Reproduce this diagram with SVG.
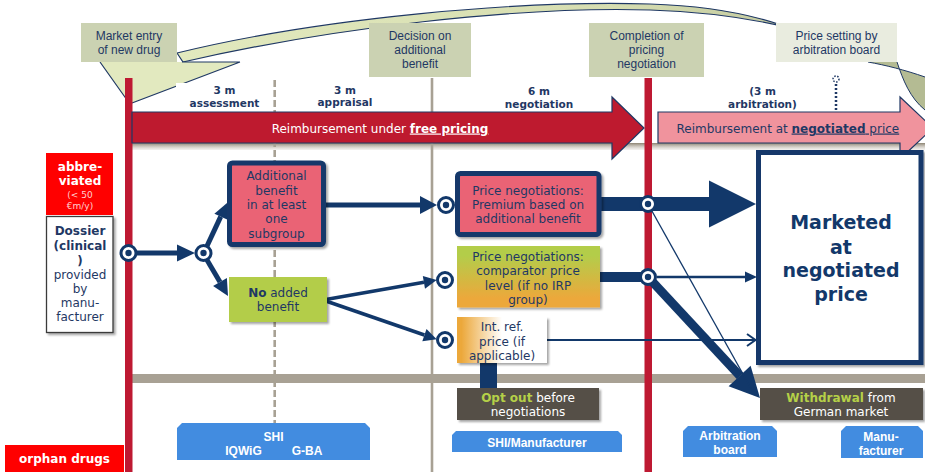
<svg xmlns="http://www.w3.org/2000/svg" width="925" height="472" viewBox="0 0 925 472">
  <style>
    .v { font-family: "DejaVu Sans", Verdana, sans-serif; }
    .a { font-family: "Liberation Sans", Arial, sans-serif; }
    .navyT { fill: #1f3864; }
    .call { font-size: 12px; fill: #1f3864; text-anchor: middle; }
    .tm { font-size: 10.5px; font-weight: bold; fill: #1f3864; text-anchor: middle; }
    .box { font-size: 12px; fill: #1f3864; text-anchor: middle; }
    .tab { fill: #428ce0; }
    .tabT { font-size: 12px; font-weight: bold; fill: #ffffff; text-anchor: middle; }
    .redline { fill: #be1932; }
    .grayline { stroke: #a8a194; }
    .con { stroke: #12386a; fill: none; }
    .head { fill: #12386a; }
    .junc { fill: #ffffff; stroke: #12386a; stroke-width: 3; }
    .dot { fill: #12386a; }
    .dark { fill: #555046; }
    .darkT { font-size: 12px; fill: #ffffff; text-anchor: middle; }
    .hl { font-weight: bold; fill: #b5d048; }
  </style>
  <defs>
    <linearGradient id="arcFill" gradientUnits="userSpaceOnUse" x1="150" y1="0" x2="925" y2="0">
      <stop offset="0" stop-color="#e3eabf"/>
      <stop offset="0.6" stop-color="#d6ddb0"/>
      <stop offset="1" stop-color="#b3ba92"/>
    </linearGradient>
    <linearGradient id="greenOrange" x1="0" y1="0" x2="0" y2="1">
      <stop offset="0.15" stop-color="#b3cd4a"/>
      <stop offset="0.85" stop-color="#eca83b"/>
    </linearGradient>
    <linearGradient id="orangeWhite" x1="0" y1="0" x2="1" y2="0">
      <stop offset="0.05" stop-color="#eca83b"/>
      <stop offset="0.5" stop-color="#ffffff"/>
    </linearGradient>
    <linearGradient id="shade" x1="0" y1="0" x2="0" y2="1">
      <stop offset="0" stop-color="#8c8372"/>
      <stop offset="1" stop-color="#d9d4cc" stop-opacity="0.3"/>
    </linearGradient>
    <filter id="sh" x="-10%" y="-10%" width="130%" height="130%">
      <feDropShadow dx="2" dy="2" stdDeviation="1.2" flood-color="#000000" flood-opacity="0.35"/>
    </filter>
  </defs>

  <rect x="0" y="0" width="925" height="472" fill="#ffffff"/>

  <!-- curved timeline arc from market entry to arbitration -->
  <g id="arc">
    <path d="M177,53 C320,18 520,0 650,4 C740,7 790,24 850,55 L870,55 C810,28 740,13 650,10 C520,6 330,28 183,62 Z" fill="url(#arcFill)" stroke="#1f3864" stroke-width="1.2"/>
    <path d="M868,62 L897,62 C903,80 910,98 925,110 L925,77 C905,70 885,65 868,62 Z" fill="#b4bb93"/>
    <path d="M897,62 C903,80 910,98 925,110 M925,77 C905,70 885,65 868,62" fill="none" stroke="#1f3864" stroke-width="1"/>
    <polygon points="100,62 127,100 132,103 240,62" fill="#e2e9bf"/>
    <path d="M100,62 L127,100 M240,62 L132,103 M182,62 L240,62" fill="none" stroke="#1f3864" stroke-width="1.2"/>
    <rect x="176" y="83" width="96" height="28" fill="#ffffff"/>
  </g>

  <!-- milestone callouts -->
  <g id="market-entry">
    <rect x="81" y="23" width="96" height="39" fill="#cbd2b2"/>
    <text class="a call" x="129" y="39.5">Market entry</text>
    <text class="a call" x="129" y="54">of new drug</text>
  </g>
  <g id="decision">
    <rect x="369" y="23" width="102" height="54" fill="#cbd2b2"/>
    <text class="a call" x="420" y="39.5">Decision on</text>
    <text class="a call" x="420" y="53.5">additional</text>
    <text class="a call" x="420" y="67.5">benefit</text>
  </g>
  <g id="completion">
    <rect x="589" y="23" width="115" height="54" fill="#cbd2b2"/>
    <text class="a call" x="646.5" y="39.5">Completion of</text>
    <text class="a call" x="646.5" y="53.5">pricing</text>
    <text class="a call" x="646.5" y="67.5">negotiation</text>
  </g>
  <g id="price-setting">
    <rect x="776" y="23" width="121" height="39" fill="#e9ecdf"/>
    <text class="a call" x="836.5" y="39.5">Price setting by</text>
    <text class="a call" x="836.5" y="54">arbitration board</text>
  </g>

  <!-- timeline grid -->
  <g id="grid">
    <rect x="130" y="143" width="795" height="7" fill="url(#shade)"/>
    <rect x="128" y="374" width="797" height="9" fill="#a8a194"/>
    <line class="grayline" x1="274.7" y1="80" x2="274.7" y2="423" stroke-width="2.6" stroke-dasharray="7,3"/>
    <line class="grayline" x1="432" y1="78" x2="432" y2="472" stroke-width="2.6"/>
    <line x1="836" y1="84" x2="836" y2="112" stroke="#1f3864" stroke-width="2.5" stroke-dasharray="2,2"/>
    <circle cx="836" cy="79" r="3" fill="none" stroke="#1f3864" stroke-width="1.5" stroke-dasharray="1.5,1.5"/>
    <rect class="redline" x="125" y="78" width="7.5" height="394"/>
    <rect class="redline" x="644.5" y="78" width="7.5" height="394"/>
  </g>

  <!-- phase durations -->
  <g id="durations">
    <text class="v tm" x="224.5" y="94">3 m</text>
    <text class="v tm" x="224.5" y="107">assessment</text>
    <text class="v tm" x="345" y="93.5">3 m</text>
    <text class="v tm" x="345" y="106">appraisal</text>
    <text class="v tm" x="539" y="95">6 m</text>
    <text class="v tm" x="539" y="107.5">negotiation</text>
    <text class="v tm" x="762.5" y="95">(3 m</text>
    <text class="v tm" x="762.5" y="107.5">arbitration)</text>
  </g>

  <!-- reimbursement arrows -->
  <g id="free-pricing">
    <path d="M132,112 L612,112 L612,97 L644,128 L612,159 L612,143 L132,143 Z" fill="#be1a2f" stroke="#1f3864" stroke-width="1.2"/>
    <text class="v" x="380" y="132.5" font-size="12" fill="#ffffff" text-anchor="middle">Reimbursement under <tspan font-weight="bold" text-decoration="underline">free pricing</tspan></text>
  </g>
  <g id="negotiated-price">
    <path d="M658,112 L900,112 L900,97 L933,128 L900,159 L900,143 L658,143 Z" fill="#f0939d" stroke="#1f3864" stroke-width="1.2"/>
    <text class="v" x="676.5" y="132.5" font-size="12" fill="#1f3864">Reimbursement at <tspan font-weight="bold" text-decoration="underline">negotiated</tspan><tspan text-decoration="underline"> price</tspan></text>
  </g>

  <!-- connectors -->
  <g id="connectors">
    <line class="con" x1="137" y1="253" x2="178" y2="253" stroke-width="5"/>
    <polygon class="head" points="177,244.5 195,253 177,261.5"/>
    <line class="con" x1="207" y1="246" x2="220.7" y2="216.6" stroke-width="5"/>
    <polygon class="head" points="227.1,219.5 227,203 214.4,213.7"/>
    <line class="con" x1="207" y1="260" x2="220" y2="282" stroke-width="5"/>
    <polygon class="head" points="226.9,278.1 228,296 213.1,286.1"/>
    <line class="con" x1="326" y1="205" x2="421" y2="205" stroke-width="5"/>
    <polygon class="head" points="420,196 437,205 420,214"/>
    <line class="con" x1="323" y1="300" x2="424" y2="282.3" stroke-width="3.5"/>
    <polygon class="head" points="425,288.7 436.7,280 422.8,275.9"/>
    <line class="con" x1="323" y1="300" x2="424.4" y2="335" stroke-width="3.5"/>
    <polygon class="head" points="422.3,341.2 436.7,339.3 426.5,328.9"/>
    <rect class="head" x="598" y="197" width="112" height="14"/>
    <polygon class="head" points="709,180.5 756,204 709,227.5"/>
    <rect class="head" x="598" y="272" width="50" height="10"/>
    <line class="con" x1="657" y1="277" x2="746" y2="277" stroke-width="2.7"/>
    <polygon class="head" points="745,271.5 757,277 745,282.5"/>
    <line class="con" x1="547" y1="340" x2="755" y2="340" stroke-width="2"/>
    <polyline class="con" points="747,334 755.5,340 747,346" stroke-width="2"/>
    <rect class="head" x="480" y="362" width="17" height="28"/>
    <line class="con" x1="648" y1="277" x2="740" y2="376" stroke-width="9"/>
    <polygon class="head" points="750.6,365.8 760,398 728.6,386.2"/>
    <line class="con" x1="648" y1="204" x2="753" y2="392" stroke-width="1.3"/>
    <circle class="junc" cx="128.5" cy="253" r="7.5"/>
    <circle class="dot" cx="128.5" cy="253" r="3.2"/>
    <circle class="junc" cx="203.5" cy="253" r="7.5"/>
    <circle class="dot" cx="203.5" cy="253" r="3.2"/>
    <circle class="junc" cx="446" cy="205" r="7.5"/>
    <circle class="dot" cx="446" cy="205" r="3.2"/>
    <circle class="junc" cx="445" cy="280" r="7.5"/>
    <circle class="dot" cx="445" cy="280" r="3.2"/>
    <circle class="junc" cx="445" cy="340" r="7.5"/>
    <circle class="dot" cx="445" cy="340" r="3.2"/>
    <circle class="junc" cx="648" cy="204" r="7.5"/>
    <circle class="dot" cx="648" cy="204" r="3.2"/>
    <circle class="junc" cx="648" cy="277" r="7.5"/>
    <circle class="dot" cx="648" cy="277" r="3.2"/>
  </g>

  <!-- left column -->
  <g id="abbreviated">
    <rect x="46" y="153" width="67" height="62" fill="#ff0000"/>
    <text class="v" x="80" y="171" font-size="12" font-weight="bold" fill="#ffffff" text-anchor="middle">abbre-</text>
    <text class="v" x="80" y="185" font-size="12" font-weight="bold" fill="#ffffff" text-anchor="middle">viated</text>
    <text class="v" x="80" y="197.5" font-size="9" fill="#ffcfcf" text-anchor="middle">(&lt; 50</text>
    <text class="v" x="80" y="208.5" font-size="9" fill="#ffcfcf" text-anchor="middle">€m/y)</text>
  </g>
  <g id="dossier">
    <rect x="46.5" y="216.5" width="66.5" height="116" fill="#ffffff" stroke="#3a3a3a" stroke-width="1.3" filter="url(#sh)"/>
    <g class="v box">
      <text x="80" y="235" font-weight="bold">Dossier</text>
      <text x="80" y="250" font-weight="bold">(clinical</text>
      <text x="80" y="265" font-weight="bold">)</text>
      <text x="80" y="279">provided</text>
      <text x="80" y="293">by</text>
      <text x="80" y="307">manu-</text>
      <text x="80" y="321">facturer</text>
    </g>
  </g>
  <g id="orphan">
    <rect x="5" y="445" width="119" height="27" fill="#ff0000"/>
    <text class="v" x="64.5" y="463" font-size="12" font-weight="bold" fill="#ffffff" text-anchor="middle">orphan drugs</text>
  </g>

  <!-- assessment outcomes -->
  <g id="additional-benefit">
    <rect x="229.5" y="163" width="94" height="81.5" rx="3" fill="#ea6374" stroke="#12386a" stroke-width="5" filter="url(#sh)"/>
    <g class="v box">
      <text x="276.5" y="180">Additional</text>
      <text x="276.5" y="195">benefit</text>
      <text x="276.5" y="209">in at least</text>
      <text x="276.5" y="223">one</text>
      <text x="276.5" y="238">subgroup</text>
    </g>
  </g>
  <g id="no-added-benefit">
    <rect x="229" y="277" width="98" height="45" fill="#b3cd4a" filter="url(#sh)"/>
    <g class="v box">
      <text x="278" y="297"><tspan font-weight="bold">No</tspan> added</text>
      <text x="278" y="311">benefit</text>
    </g>
  </g>

  <!-- negotiation paths -->
  <g id="premium">
    <rect x="457.5" y="173.5" width="141.5" height="61" rx="3" fill="#ea6374" stroke="#12386a" stroke-width="5" filter="url(#sh)"/>
    <g class="v box">
      <text x="528" y="194.5">Price negotiations:</text>
      <text x="528" y="208.5">Premium based on</text>
      <text x="528" y="223">additional benefit</text>
    </g>
  </g>
  <g id="comparator">
    <rect x="457" y="246" width="143" height="61.5" fill="url(#greenOrange)" filter="url(#sh)"/>
    <g class="v box">
      <text x="528" y="260.5">Price negotiations:</text>
      <text x="528" y="275">comparator price</text>
      <text x="528" y="289.5">level (if no IRP</text>
      <text x="528" y="304">group)</text>
    </g>
  </g>
  <g id="int-ref-price">
    <rect x="457" y="317" width="90" height="46" fill="url(#orangeWhite)" filter="url(#sh)"/>
    <g class="v box">
      <text x="502" y="331">Int. ref.</text>
      <text x="502" y="345.5">price (if</text>
      <text x="502" y="359.5">applicable)</text>
    </g>
  </g>
  <g id="opt-out">
    <rect class="dark" x="457" y="388" width="142" height="32" filter="url(#sh)"/>
    <text class="v darkT" x="528" y="402"><tspan class="hl">Opt out</tspan> before</text>
    <text class="v darkT" x="528" y="416">negotiations</text>
  </g>

  <!-- outcomes -->
  <g id="marketed">
    <rect x="758.5" y="152.5" width="162.5" height="210" fill="#ffffff" stroke="#12386a" stroke-width="5" filter="url(#sh)"/>
    <g class="v" font-size="19" font-weight="bold" fill="#12386a" text-anchor="middle">
      <text x="841" y="229">Marketed</text>
      <text x="841" y="254">at</text>
      <text x="841" y="277">negotiated</text>
      <text x="841" y="301">price</text>
    </g>
  </g>
  <g id="withdrawal">
    <rect class="dark" x="760" y="388" width="163" height="32" filter="url(#sh)"/>
    <text class="v darkT" x="841" y="402"><tspan class="hl">Withdrawal</tspan> from</text>
    <text class="v darkT" x="841" y="416">German market</text>
  </g>

  <!-- responsible bodies -->
  <g id="tab-shi-iqwig-gba">
    <path class="tab" d="M177,428 L182,423 L365,423 L370,428 L370,460 L177,460 Z"/>
    <text class="a tabT" x="273.5" y="441">SHI</text>
    <text class="a tabT" x="243.5" y="455">IQWiG</text>
    <text class="a tabT" x="307" y="455">G-BA</text>
  </g>
  <g id="tab-shi-manufacturer">
    <path class="tab" d="M452,435 L456,431 L618,431 L622,435 L622,452 L452,452 Z"/>
    <text class="a tabT" x="537" y="446.5">SHI/Manufacturer</text>
  </g>
  <g id="tab-arbitration">
    <path class="tab" d="M683,431 L688,426 L772,426 L777,431 L777,457 L683,457 Z"/>
    <text class="a tabT" x="730" y="440">Arbitration</text>
    <text class="a tabT" x="730" y="454">board</text>
  </g>
  <g id="tab-manufacturer">
    <path class="tab" d="M841,431 L846,426 L918,426 L923,431 L923,458 L841,458 Z"/>
    <text class="a tabT" x="881" y="441">Manu-</text>
    <text class="a tabT" x="881" y="455">facturer</text>
  </g>
</svg>
